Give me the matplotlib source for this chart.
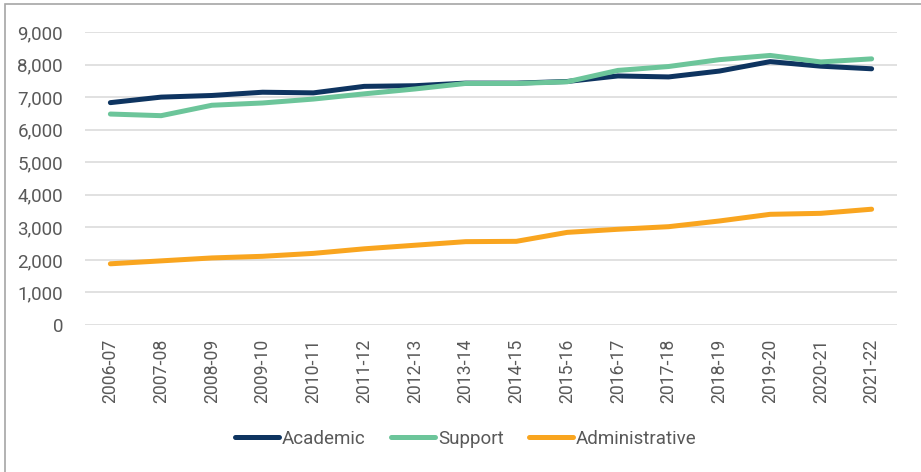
import matplotlib.pyplot as plt
from matplotlib.patches import Rectangle
from matplotlib.ticker import FuncFormatter

years = ['2006-07', '2007-08', '2008-09', '2009-10', '2010-11', '2011-12',
         '2012-13', '2013-14', '2014-15', '2015-16', '2016-17', '2017-18',
         '2018-19', '2019-20', '2020-21', '2021-22']
academic = [6830, 7000, 7050, 7150, 7130, 7330, 7350, 7430, 7430, 7480,
            7650, 7620, 7800, 8090, 7950, 7870]
support = [6480, 6430, 6750, 6820, 6940, 7100, 7250, 7420, 7420, 7470,
           7820, 7940, 8150, 8280, 8080, 8175]
administrative = [1880, 1970, 2060, 2110, 2200, 2340, 2450, 2560, 2570, 2845,
                  2940, 3020, 3195, 3400, 3430, 3557]

plt.rcParams['font.family'] = ['Roboto', 'DejaVu Sans']
grey = '#595959'

fig = plt.figure(figsize=(9.21, 4.72), dpi=100)
fig.patches.append(Rectangle((5 / 921, -0.1), 1.2, 1 - 4 / 472 + 0.1,
                             transform=fig.transFigure, fill=False,
                             edgecolor='#A6A6A6', linewidth=1.2))
ax = fig.add_axes([85 / 921, 1 - 325 / 472, 812 / 921, 293 / 472])

x = range(len(years))
ax.plot(x, academic, color='#0E3460', lw=3.6, label='Academic', solid_capstyle='round')
ax.plot(x, support, color='#6CC59A', lw=3.6, label='Support', solid_capstyle='round')
ax.plot(x, administrative, color='#F9A51F', lw=3.6, label='Administrative', solid_capstyle='round')

ax.set_xlim(-0.5, len(years) - 0.5)
ax.set_ylim(0, 9000)
ax.set_yticks(range(0, 9001, 1000))
ax.yaxis.set_major_formatter(FuncFormatter(lambda v, p: f'{int(v):,}'))
ax.set_xticks(list(x))
ax.set_xticklabels(years, rotation=90)
ax.tick_params(axis='both', length=0, colors=grey)
ax.tick_params(axis='x', pad=10, labelsize=12.7)
ax.tick_params(axis='y', pad=15.8, labelsize=13.5)
ax.grid(axis='y', color='#D9D9D9', lw=1.1)
ax.set_axisbelow(True)
for s in ax.spines.values():
    s.set_visible(False)

leg = fig.legend(loc='center', bbox_to_anchor=(466 / 921, 1 - 439 / 472), ncol=3,
                 frameon=False, fontsize=13.5, handlelength=2.35,
                 handletextpad=0.15, columnspacing=1.35)
for t in leg.get_texts():
    t.set_color(grey)

fig.savefig('out.png', dpi=100)
